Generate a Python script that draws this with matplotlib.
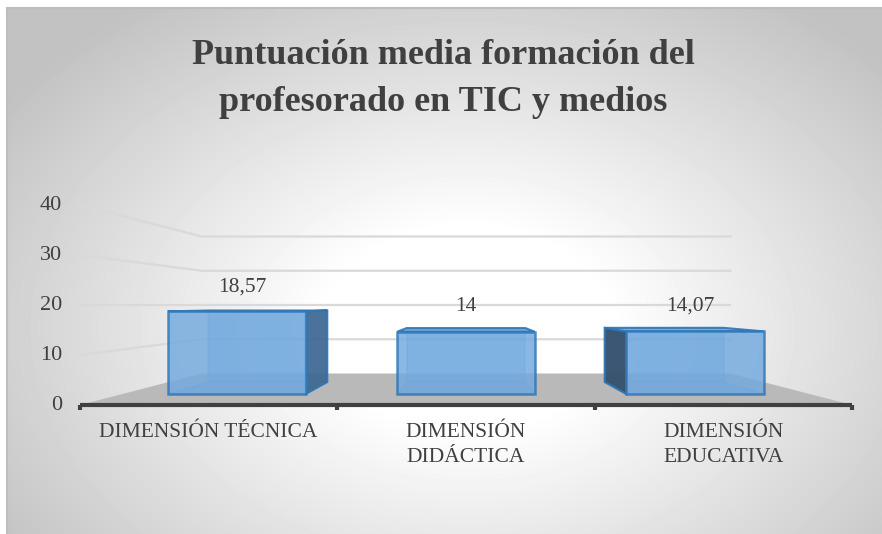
import numpy as np
import matplotlib.pyplot as plt
from matplotlib.patches import Polygon

# datos del gráfico
categorias = ['DIMENSIÓN TÉCNICA', 'DIMENSIÓN\nDIDÁCTICA', 'DIMENSIÓN\nEDUCATIVA']
puntuaciones = [18.57, 14, 14.07]
etiquetas = ['18,57', '14', '14,07']
ticks_y = [0, 10, 20, 30, 40]
titulo = 'Puntuación media formación del\nprofesorado en TIC y medios'

fuente = 'Liberation Serif'
gris_texto = '#404040'

W, H = 882, 534
fig = plt.figure(figsize=(W / 100, H / 100), dpi=100)

# fondo con degradado radial
bg = fig.add_axes([7 / W, 0, 1 - 7 / W, 1 - 8 / H])
yy, xx = np.mgrid[0:526, 0:875]
r = np.hypot((xx - 460) / 470.0, (yy - 320) / 330.0)
nivel = 1 - 0.24 * np.clip((r - 0.3) / 0.9, 0, 1)
bg.imshow(nivel, cmap='gray', vmin=0, vmax=1, aspect='auto')
bg.set_xticks([])
bg.set_yticks([])
for nombre, lado in bg.spines.items():
    lado.set_color('#bdbdbd')
    lado.set_linewidth(1.5)
    lado.set_visible(nombre in ('top', 'left'))

# ejes en coordenadas del plano frontal: x en categorías, y en puntuación
ax = fig.add_axes([0, 0, 1, 1])
ax.patch.set_alpha(0)
ax.axis('off')
px = 257.33  # pixeles por categoría
ax.set_xlim(-0.5 - 80 / px, -0.5 + (W - 80) / px)
ax.set_ylim((405 - H) / 5.0, 405 / 5.0)

xc, yh = 1.0, 20.0        # punto de fuga
s_fondo = 0.685           # profundidad del suelo
s_ini, s_fin = 0.89, 0.77  # profundidad de las barras


def proy(x, y, s):
    return (xc + (x - xc) * s, yh + (y - yh) * s)


# suelo
suelo = [proy(-0.5, 0, 1), proy(-0.5, 0, s_fondo), proy(2.5, 0, s_fondo), proy(2.5, 0, 1)]
ax.add_patch(Polygon(suelo, closed=True, facecolor='#b9b9b9', edgecolor='none', zorder=1))

# líneas de cuadrícula (pared izquierda y fondo)
for v in ticks_y[1:]:
    pts = np.array([proy(-0.5, v, 1), proy(-0.5, v, s_fondo), proy(2.5, v, s_fondo)])
    ax.plot(pts[:, 0], pts[:, 1], color='#d9d9d9', lw=1.6, zorder=2)

# eje x
ax.plot([-0.5, 2.5], [0, 0], color=gris_texto, lw=3, zorder=6, solid_capstyle='butt')
for t in [-0.5, 0.5, 1.5, 2.5]:
    ax.plot([t, t], [0, -1.0], color=gris_texto, lw=3, zorder=6, solid_capstyle='butt')

# etiquetas del eje y
for v in ticks_y:
    ax.text(-0.5 - 18 / px, v, str(v), ha='right', va='center', fontsize=16,
            color=gris_texto, family=fuente)

# etiquetas de categoría
for i, cat in enumerate(categorias):
    ax.text(i, -3.6, cat, ha='center', va='top', fontsize=15.5, color=gris_texto,
            linespacing=1.4, family=fuente)

# barras en pseudo 3D
media = 0.3
azul = '#5b9bd5'
borde = '#2e75b6'
for i, v in enumerate(puntuaciones):
    x0, x1 = i - media, i + media

    def cara(puntos):
        return [proy(x, y, s) for x, y, s in puntos]

    atras = cara([(x0, 0, s_fin), (x1, 0, s_fin), (x1, v, s_fin), (x0, v, s_fin)])
    abajo = cara([(x0, 0, s_ini), (x1, 0, s_ini), (x1, 0, s_fin), (x0, 0, s_fin)])
    arriba = cara([(x0, v, s_ini), (x1, v, s_ini), (x1, v, s_fin), (x0, v, s_fin)])
    izq = cara([(x0, 0, s_ini), (x0, 0, s_fin), (x0, v, s_fin), (x0, v, s_ini)])
    der = cara([(x1, 0, s_ini), (x1, 0, s_fin), (x1, v, s_fin), (x1, v, s_ini)])
    frente = cara([(x0, 0, s_ini), (x1, 0, s_ini), (x1, v, s_ini), (x0, v, s_ini)])

    for poly in (atras, abajo):
        ax.add_patch(Polygon(poly, closed=True, facecolor=azul, alpha=0.35,
                             edgecolor='#5b9bd5', lw=1.2, zorder=3))
    if i < xc - 0.5:
        ax.add_patch(Polygon(der, closed=True, facecolor='#3d6791', alpha=0.9,
                             edgecolor=borde, lw=1.5, zorder=4))
    elif i > xc + 0.5:
        ax.add_patch(Polygon(izq, closed=True, facecolor='#34506c', alpha=0.95,
                             edgecolor=borde, lw=1.5, zorder=4))
    ax.add_patch(Polygon(arriba, closed=True, facecolor='#6fa8dc', alpha=0.9,
                         edgecolor=borde, lw=1.5, zorder=4))
    ax.add_patch(Polygon(frente, closed=True, facecolor='#71a9de', alpha=0.82,
                         edgecolor=borde, lw=1.8, zorder=5))

    # etiqueta de valor sobre la barra
    tx, ty = proy(i, v, 0.87)
    ax.text(tx, ty + 3.0, etiquetas[i], ha='center', va='bottom', fontsize=15.5,
            color=gris_texto, family=fuente)

# título
fig.text(443 / W, 1 - 79 / H, titulo, ha='center', va='center', fontsize=26,
         fontweight='bold', color=gris_texto, linespacing=1.55, family=fuente)

fig.savefig('out.png', dpi=100)
